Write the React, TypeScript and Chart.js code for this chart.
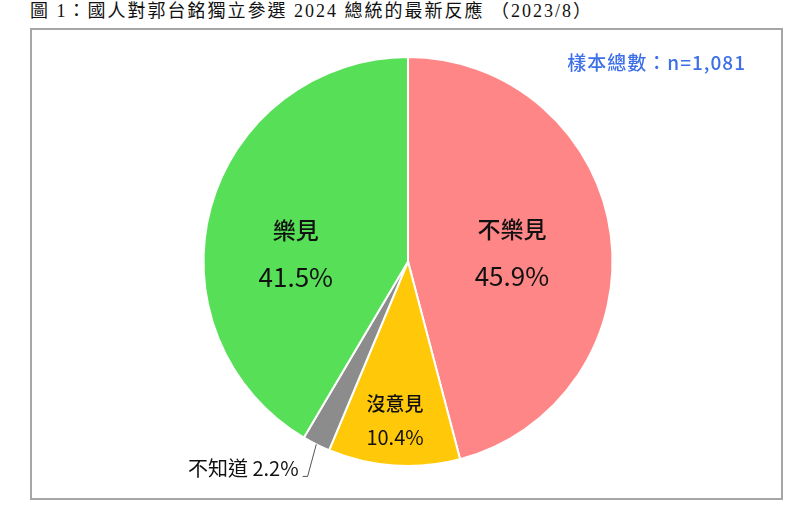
import React, { useEffect, useRef } from 'react';
import Chart from 'chart.js/auto';

// === Data ===
const CATEGORIES = ['不樂見', '沒意見', '不知道', '樂見'];
const PERCENTS = [45.9, 10.4, 2.2, 41.5];
const COLORS = ['#FF8686', '#FFC90A', '#8C8C8C', '#58DF58'];

const TITLE = '圖 1：國人對郭台銘獨立參選 2024 總統的最新反應 （2023/8）';
const SAMPLE_NOTE = '樣本總數：n=1,081';

// === Label placement (radius fraction, angle shift in degrees, fonts) ===
const LABEL_STYLE = [
  { inside: true, r: 0.51, shift: 2.5, nameSize: 23, pctSize: 26, gap: 46 },
  { inside: true, r: 0.78, shift: 0.7, nameSize: 19, pctSize: 20, gap: 34 },
  { inside: false, r: 1.16, shift: -1.6, nameSize: 20, pctSize: 20, gap: 0 },
  { inside: true, r: 0.55, shift: -11.3, nameSize: 23, pctSize: 26, gap: 46 },
];

const FONT = '"Noto Sans CJK TC", "Noto Sans", sans-serif';

const sliceLabels = {
  id: 'sliceLabels',
  afterDatasetsDraw(chart: any) {
    const ctx = chart.ctx;
    const meta = chart.getDatasetMeta(0);
    meta.data.forEach((arc: any, i: number) => {
      const st = LABEL_STYLE[i];
      const mid = (arc.startAngle + arc.endAngle) / 2 + (st.shift * Math.PI) / 180;
      const R = arc.outerRadius;
      ctx.save();
      ctx.fillStyle = '#111';
      if (st.inside) {
        const x = arc.x + Math.cos(mid) * R * st.r;
        const y = arc.y + Math.sin(mid) * R * st.r;
        ctx.textAlign = 'center';
        ctx.textBaseline = 'middle';
        ctx.font = `500 ${st.nameSize}px ${FONT}`;
        ctx.fillText(CATEGORIES[i], x, y - st.gap / 2);
        ctx.font = `400 ${st.pctSize}px ${FONT}`;
        ctx.fillText(`${PERCENTS[i]}%`, x, y + st.gap / 2);
      } else {
        // outside label with a leader line
        const a0 = (arc.startAngle + arc.endAngle) / 2;
        const sx = arc.x + Math.cos(a0) * R;
        const sy = arc.y + Math.sin(a0) * R;
        const ex = arc.x + Math.cos(mid) * R * st.r;
        const ey = arc.y + Math.sin(mid) * R * st.r;
        ctx.strokeStyle = '#555';
        ctx.lineWidth = 1;
        ctx.beginPath();
        ctx.moveTo(sx, sy);
        ctx.lineTo(ex, ey);
        ctx.lineTo(ex - 5, ey);
        ctx.stroke();
        ctx.textAlign = 'right';
        ctx.textBaseline = 'middle';
        ctx.font = `400 ${st.nameSize}px ${FONT}`;
        ctx.fillText(`${CATEGORIES[i]} ${PERCENTS[i]}%`, ex - 9, ey - 8);
      }
      ctx.restore();
    });
  },
};

const App: React.FC = () => {
  const canvasRef = useRef<HTMLCanvasElement>(null);

  useEffect(() => {
    if (!canvasRef.current) return;
    const chart = new Chart(canvasRef.current, {
      type: 'pie',
      data: {
        labels: CATEGORIES,
        datasets: [
          {
            data: PERCENTS,
            backgroundColor: COLORS,
            borderColor: '#ffffff',
            borderWidth: 2,
          },
        ],
      },
      options: {
        animation: false,
        responsive: true,
        maintainAspectRatio: false,
        layout: { padding: { top: 26, bottom: 31, left: 3, right: 0 } },
        plugins: {
          legend: { display: false },
          tooltip: { enabled: false },
        },
      },
      plugins: [sliceLabels],
    });
    return () => chart.destroy();
  }, []);

  return (
    <div
      style={{
        position: 'absolute',
        left: 0,
        top: 0,
        width: 800,
        height: 516,
        background: '#fff',
        fontFamily: FONT,
      }}
    >
      <div
        style={{
          position: 'absolute',
          left: 30,
          top: 0,
          fontSize: 18,
          lineHeight: '23px',
          letterSpacing: '2px',
          color: '#111',
          whiteSpace: 'nowrap',
          fontFamily: '"Liberation Serif", "Noto Sans CJK TC", serif',
        }}
      >
        {TITLE}
      </div>
      <div
        style={{
          position: 'absolute',
          left: 30,
          top: 28,
          width: 753,
          height: 472,
          boxSizing: 'border-box',
          border: '2px solid #a6a6a6',
        }}
      >
        <div style={{ position: 'relative', width: 749, height: 468 }}>
          <canvas ref={canvasRef} />
        </div>
      </div>
      <div
        style={{
          position: 'absolute',
          right: 54,
          top: 49,
          fontSize: 19,
          lineHeight: '26px',
          letterSpacing: '1px',
          fontWeight: 500,
          color: '#3d6fe8',
          whiteSpace: 'nowrap',
        }}
      >
        {SAMPLE_NOTE}
      </div>
    </div>
  );
};

export default App;
